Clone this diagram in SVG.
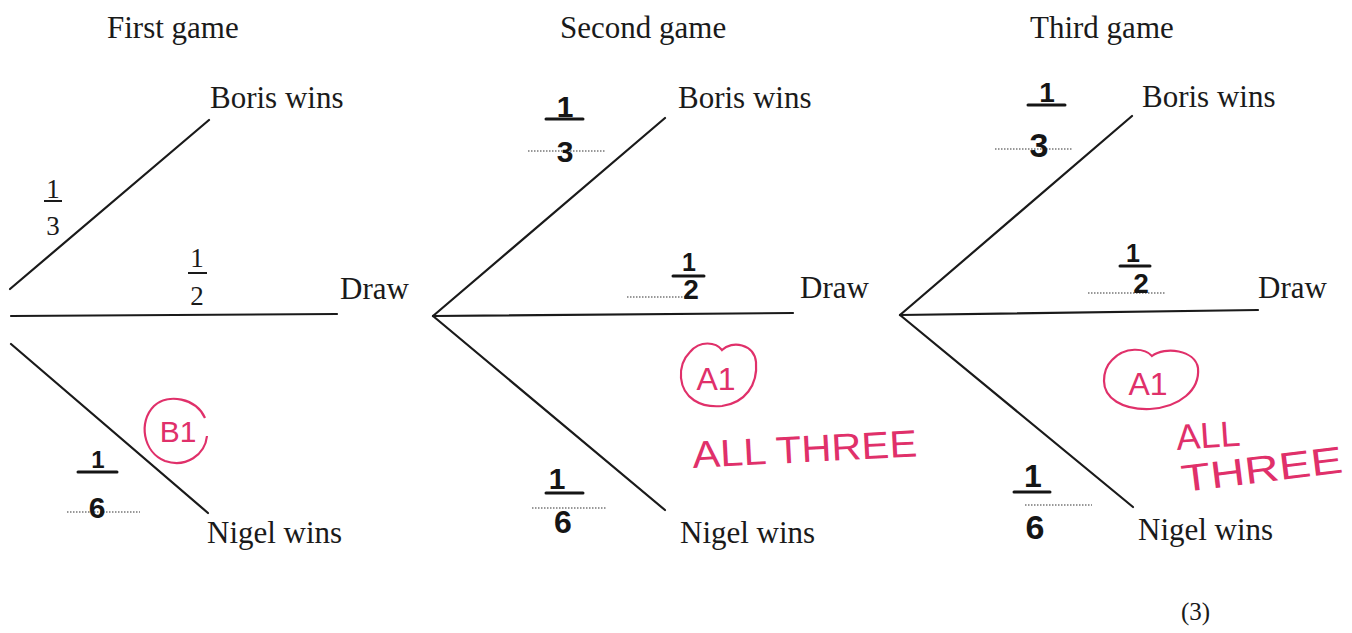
<svg xmlns="http://www.w3.org/2000/svg" width="1352" height="633" viewBox="0 0 1352 633">
<style>
.t{font-family:"Liberation Serif","Times New Roman",serif;font-size:31px;fill:#1a1a1a}
.f{font-family:"Liberation Serif","Times New Roman",serif;font-size:27px;fill:#1a1a1a;text-anchor:middle}
.h{font-family:"Liberation Sans",Arial,sans-serif;fill:#151515;text-anchor:middle;font-weight:bold}
.r{font-family:"Liberation Sans",Arial,sans-serif;fill:#e0306a;stroke:none}
.br{stroke:#1a1a1a;stroke-width:2.2;fill:none;stroke-linecap:round}
.bar{stroke:#1a1a1a;stroke-width:2;fill:none}
.hbar{stroke:#151515;stroke-width:3;fill:none;stroke-linecap:round}
.dot{stroke:#777;stroke-width:1.6;stroke-dasharray:1.5 1.5;fill:none}
.ring{stroke:#e0306a;stroke-width:2.2;fill:none}
</style>
<rect width="1352" height="633" fill="#ffffff"/>
<g id="titles">
<text class="t" x="107" y="38">First game</text>
<text class="t" x="560" y="38">Second game</text>
<text class="t" x="1030" y="38">Third game</text>
</g>
<g id="connectors">
<line class="br" x1="10" y1="289" x2="209" y2="120"/>
<line class="br" x1="11" y1="316" x2="337" y2="314"/>
<line class="br" x1="11" y1="344" x2="208" y2="513"/>
<line class="br" x1="433" y1="316" x2="665" y2="118"/>
<line class="br" x1="433" y1="316" x2="793" y2="313"/>
<line class="br" x1="433" y1="316" x2="665" y2="510"/>
<line class="br" x1="900" y1="315" x2="1132" y2="116"/>
<line class="br" x1="900" y1="315" x2="1258" y2="310"/>
<line class="br" x1="900" y1="315" x2="1133" y2="507"/>
</g>
<g id="game1">
<g id="g1-boris"><text class="t" x="210" y="108">Boris wins</text></g>
<g id="g1-draw"><text class="t" x="340" y="299">Draw</text></g>
<g id="g1-nigel"><text class="t" x="207" y="543">Nigel wins</text></g>
<g id="g1-p-boris"><text class="f" x="53" y="198">1</text><line class="bar" x1="44" y1="201" x2="62" y2="201"/><text class="f" x="53" y="235">3</text></g>
<g id="g1-p-draw"><text class="f" x="197" y="267">1</text><line class="bar" x1="188" y1="273" x2="207" y2="273"/><text class="f" x="197" y="305">2</text></g>
<g id="g1-p-nigel"><line class="dot" x1="67" y1="512" x2="140" y2="512"/><text class="h" x="98" y="468" font-size="24">1</text><line class="hbar" x1="78" y1="472" x2="117" y2="472"/><text class="h" x="97" y="518" font-size="30">6</text></g>
<g id="mark-b1"><path class="ring" d="M205,418 C196,398 168,393 154,406 C138,422 143,452 165,461 C186,468 205,455 207,436"/><text class="r" x="178" y="442" font-size="30" text-anchor="middle">B1</text></g>
</g>
<g id="game2">
<g id="g2-boris"><text class="t" x="678" y="108">Boris wins</text></g>
<g id="g2-draw"><text class="t" x="800" y="298">Draw</text></g>
<g id="g2-nigel"><text class="t" x="680" y="543">Nigel wins</text></g>
<g id="g2-p-boris"><line class="dot" x1="528" y1="151" x2="605" y2="151"/><text class="h" x="565" y="117" font-size="30">1</text><line class="hbar" x1="546" y1="119" x2="583" y2="119"/><text class="h" x="565" y="162" font-size="30">3</text></g>
<g id="g2-p-draw"><line class="dot" x1="627" y1="297" x2="685" y2="297"/><text class="h" x="689" y="271" font-size="25">1</text><line class="hbar" x1="673" y1="276" x2="704" y2="276"/><text class="h" x="691" y="299" font-size="28">2</text></g>
<g id="g2-p-nigel"><line class="dot" x1="532" y1="508" x2="607" y2="508"/><text class="h" x="557" y="489" font-size="30">1</text><line class="hbar" x1="546" y1="493" x2="583" y2="493"/><text class="h" x="563" y="533" font-size="32">6</text></g>
<g id="mark-a1-2"><path class="ring" d="M690,352 C700,340 716,342 722,350 C732,340 754,344 756,362 C758,385 745,403 722,406 C700,408 683,398 681,378 C680,366 684,358 690,352"/><text class="r" x="716" y="390" font-size="32" text-anchor="middle">A1</text></g>
<g id="note-2"><text class="r" x="693" y="468" font-size="38" textLength="225" lengthAdjust="spacingAndGlyphs" transform="rotate(-3 693 468)">ALL THREE</text></g>
</g>
<g id="game3">
<g id="g3-boris"><text class="t" x="1142" y="107">Boris wins</text></g>
<g id="g3-draw"><text class="t" x="1258" y="298">Draw</text></g>
<g id="g3-nigel"><text class="t" x="1138" y="540">Nigel wins</text></g>
<g id="g3-p-boris"><line class="dot" x1="995" y1="149" x2="1072" y2="149"/><text class="h" x="1047" y="102" font-size="28">1</text><line class="hbar" x1="1028" y1="105" x2="1065" y2="105"/><text class="h" x="1039" y="157" font-size="34">3</text></g>
<g id="g3-p-draw"><line class="dot" x1="1088" y1="293" x2="1165" y2="293"/><text class="h" x="1133" y="262" font-size="25">1</text><line class="hbar" x1="1120" y1="266" x2="1150" y2="266"/><text class="h" x="1141" y="293" font-size="28">2</text></g>
<g id="g3-p-nigel"><line class="dot" x1="1025" y1="505" x2="1092" y2="505"/><text class="h" x="1033" y="487" font-size="32">1</text><line class="hbar" x1="1014" y1="492" x2="1050" y2="492"/><text class="h" x="1035" y="539" font-size="34">6</text></g>
<g id="mark-a1-3"><path class="ring" d="M1112,360 C1125,346 1145,348 1152,356 C1165,346 1195,350 1198,368 C1200,390 1180,407 1150,409 C1122,410 1104,398 1104,381 C1104,371 1107,365 1112,360"/><text class="r" x="1148" y="395" font-size="32" text-anchor="middle">A1</text></g>
<g id="note-3"><text class="r" x="1177" y="450" font-size="36" transform="rotate(-4 1177 450)">ALL</text><text class="r" x="1183" y="492" font-size="38" textLength="162" lengthAdjust="spacingAndGlyphs" transform="rotate(-7 1183 492)">THREE</text></g>
</g>
<g id="marks"><text class="t" x="1181" y="620" style="font-size:25px">(3)</text></g>
</svg>
